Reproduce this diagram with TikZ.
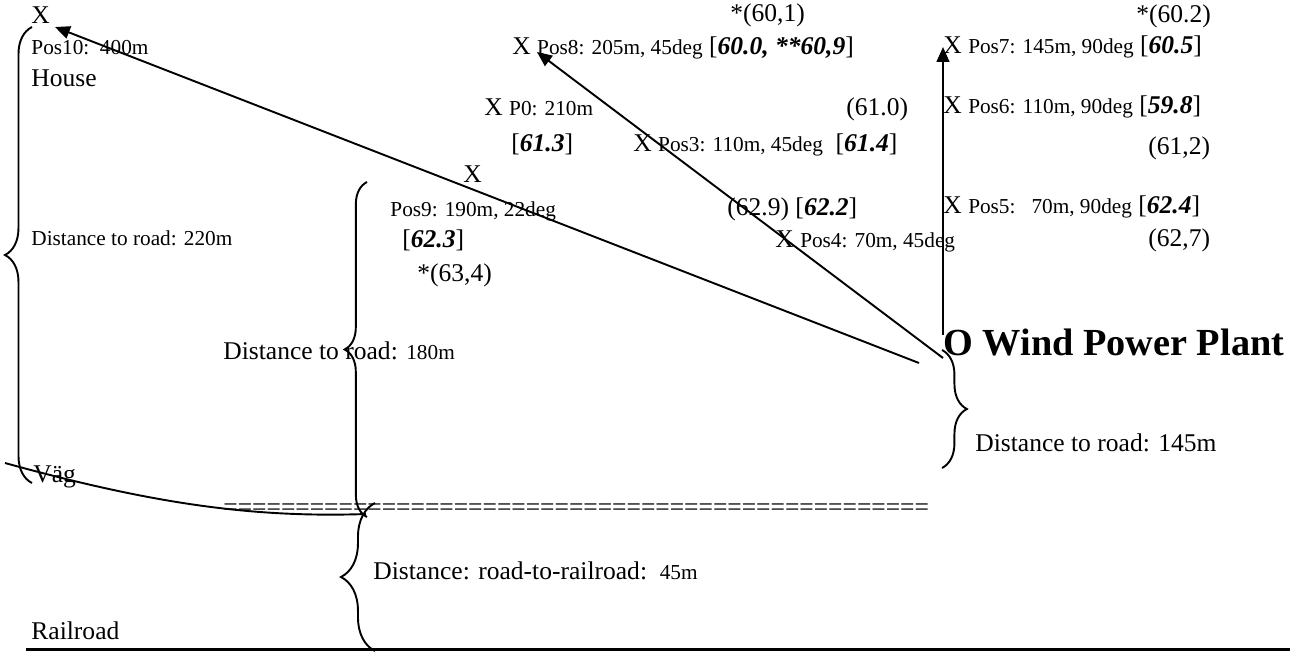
\documentclass[tikz,border=0pt]{standalone}
\usepackage{fontspec}
\setmainfont{Liberation Serif}
\usetikzlibrary{arrows.meta,decorations.pathreplacing}
\newcommand\smtxt[1]{{\fontsize{10}{12}\selectfont #1}}
\newcommand\bfit[1]{\textbf{\textit{#1}}}
\begin{document}
\begin{tikzpicture}[x=0.47pt,y=-0.47pt,
  txt/.style={anchor=base west,inner sep=0pt,font={\fontsize{12}{14}\selectfont}},
  stxt/.style={anchor=base west,inner sep=0pt,font={\fontsize{10}{12}\selectfont}},
  ln/.style={line width=0.9pt},
  arr/.style={ln,-{Triangle[length=7pt,width=6pt]}},
  brc/.style={ln,decorate,decoration={brace,amplitude=#1}}]
\useasboundingbox (0,0) rectangle (1290,652);
% texts
\node[txt] (x10) at (31,23) {X};
\node[stxt] (pos10) at (31,54) {Pos10:~~400m};
\node[txt] (house) at (31,86) {House};
\node[txt] (s601) at (730,21) {*(60,1)};
\node[txt] (s602) at (1136,22) {*(60.2)};
\node[txt] (pos8) at (512,54) {X \smtxt{Pos8: 205m, 45deg} [\bfit{60.0, **60,9}]};
\node[txt] (pos7) at (943,53) {X \smtxt{Pos7: 145m, 90deg} [\bfit{60.5}]};
\node[txt] (p0) at (484,115) {X \smtxt{P0: 210m}};
\node[txt] (v610) at (846,115) {(61.0)};
\node[txt] (pos6) at (943,113) {X \smtxt{Pos6: 110m, 90deg} [\bfit{59.8}]};
\node[txt] (v613) at (511,151) {[\bfit{61.3}]};
\node[txt] (pos3) at (633,151) {X \smtxt{Pos3: 110m, 45deg}~~[\bfit{61.4}]};
\node[txt] (v612) at (1148,154) {(61,2)};
\node[txt] (x9) at (463,182) {X};
\node[stxt] (pos9) at (390,216) {Pos9: 190m, 22deg};
\node[txt] (v629) at (727,215) {(62.9) [\bfit{62.2}]};
\node[txt] (pos5) at (943,213) {X \smtxt{Pos5:~~~70m, 90deg} [\bfit{62.4}]};
\node[stxt] (d220) at (31,245) {Distance to road: 220m};
\node[txt] (v623) at (402,247) {[\bfit{62.3}]};
\node[txt] (pos4) at (775,247) {X \smtxt{Pos4: 70m, 45deg}};
\node[txt] (v627) at (1148,246) {(62,7)};
\node[txt] (v634) at (417,281) {*(63,4)};
\node[txt] (d180) at (223,359) {Distance to road: \smtxt{180m}};
\node[anchor=base west,inner sep=0pt,font={\fontsize{18}{21}\selectfont\bfseries}] (wpp) at (943,355) {O Wind Power Plant};
\node[txt] (d145) at (975,451) {Distance to road: 145m};
\node[txt] (vag) at (33,482) {Väg};
\node[txt] (eq) at (223,515) {=================================================};
\node[txt] (drr) at (373,579) {Distance: road-to-railroad:~~\smtxt{45m}};
\node[txt] (rail) at (31,639) {Railroad};
% arrows from the plant
\coordinate (o10) at (919,363);
\coordinate (o8) at (943,358);
\coordinate (o7) at (943,335);
\coordinate (t10) at (55,27);
\coordinate (t8) at (537,52);
\coordinate (t7) at (943,47);
\draw[arr] (o10) -- (t10);
\draw[arr] (o8) -- (t8);
\draw[arr] (o7) -- (t7);
% road and railroad
\coordinate (r0) at (5,463);
\coordinate (r1) at (366,514);
\draw[ln] (r0) .. controls (150,503) and (250,518) .. (r1);
\coordinate (rr0) at (26,649);
\coordinate (rr1) at (1290,649);
\draw[line width=1.4pt] (rr0) -- (rr1);
% braces
\coordinate (b1a) at (32,483);
\coordinate (b1b) at (32,27);
\draw[brc=12.7pt] (b1a) -- (b1b);
\coordinate (b2a) at (367,517);
\coordinate (b2b) at (367,182);
\draw[brc=10.5pt] (b2a) -- (b2b);
\coordinate (b3a) at (375,651);
\coordinate (b3b) at (375,503);
\draw[brc=16pt] (b3a) -- (b3b);
\coordinate (b4a) at (942,350);
\coordinate (b4b) at (942,468);
\draw[brc=11.7pt] (b4a) -- (b4b);
\end{tikzpicture}
\end{document}
